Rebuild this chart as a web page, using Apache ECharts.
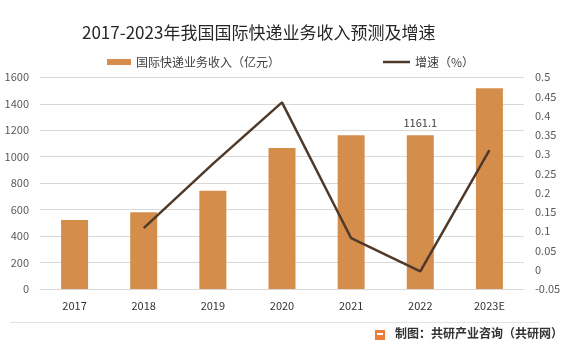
<!DOCTYPE html>
<html><head><meta charset="utf-8">
<script src="https://cdn.jsdelivr.net/npm/echarts@6/dist/echarts.min.js"></script>
<style>html,body{margin:0;padding:0;background:#fff}#c{width:566px;height:352px}</style>
</head><body><div id="c"></div>
<script>
var categories = ['2017','2018','2019','2020','2021','2022','2023E'];
var revenue = [521, 580, 743, 1066, 1162, 1161.1, 1518];
var growth = [null, 0.108, 0.275, 0.435, 0.082, -0.004, 0.311];
var titleText = '2017-2023年我国国际快递业务收入预测及增速';
var revenueName = '国际快递业务收入（亿元）';
var growthName = '增速（%）';
var sourceText = '制图：共研产业咨询（共研网）';
var labeledIndex = 5;

var font = '"Noto Sans CJK SC", "Noto Sans", sans-serif';
var chart = echarts.init(document.getElementById('c'), null, {renderer:'canvas'});
chart.setOption({
  animation:false,
  textStyle:{fontFamily:font},
  title:{text:titleText,left:77,top:19,textStyle:{fontSize:17,fontWeight:'normal',color:'#262626',fontFamily:font}},
  legend:[
    {left:102,top:51,itemWidth:24,itemHeight:6,
     textStyle:{fontSize:12,color:'#404040',fontFamily:font},
     data:[{name:revenueName,icon:'rect'}]},
    {left:378,top:51,itemWidth:27,itemHeight:2.5,itemGap:4,
     textStyle:{fontSize:12,color:'#404040',fontFamily:font},
     data:[{name:growthName,icon:'rect'}]}
  ],
  grid:{left:40,right:42,top:77.3,bottom:63},
  xAxis:{type:'category',data:categories,
    axisLine:{show:true,lineStyle:{color:'#d9d9d9'}},axisTick:{show:false},
    axisLabel:{color:'#333',fontSize:11,margin:11}},
  yAxis:[
    {type:'value',min:0,max:1600,interval:200,
     axisLabel:{color:'#595959',fontSize:11,margin:11,formatter:function(v){return String(v);}},
     splitLine:{lineStyle:{color:'#d9d9d9'}},axisLine:{show:false},axisTick:{show:false}},
    {type:'value',min:-0.05,max:0.5,interval:0.05,
     axisLabel:{color:'#595959',fontSize:11,margin:11,formatter:function(v){return String(parseFloat(v.toFixed(2)));}},
     splitLine:{show:false},axisLine:{show:false},axisTick:{show:false}}
  ],
  series:[
    {name:revenueName,type:'bar',barWidth:27,yAxisIndex:0,
     itemStyle:{color:'#D58D4C'},
     data:revenue.map(function(v,i){
       return i===labeledIndex?{value:v,label:{show:true,position:'top',distance:7,color:'#404040',fontSize:11}}:v;
     })},
    {name:growthName,type:'line',yAxisIndex:1,symbol:'none',
     lineStyle:{color:'#4F3A2A',width:2.5},itemStyle:{color:'#4F3A2A'},
     data:growth}
  ],
  graphic:[
    {type:'line',shape:{x1:10,y1:322.5,x2:540,y2:322.5},style:{stroke:'#e3e3e3',lineWidth:1}},
    {type:'rect',shape:{x:375,y:330,width:10,height:10},style:{fill:'#EE7D3A'}},
    {type:'rect',shape:{x:377,y:333,width:6,height:2},style:{fill:'#fff'}},
    {type:'text',left:395,top:327,style:{text:sourceText,fontSize:12,fontWeight:'bold',fill:'#333',fontFamily:font}}
  ]
});
</script></body></html>
